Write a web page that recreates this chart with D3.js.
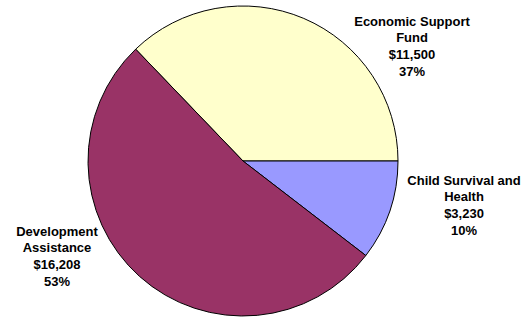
<!DOCTYPE html>
<html>
<head>
  <title>Pie chart</title>
  <style>
    body { margin: 0; background: #fff; }
    .label { font-family: "Liberation Sans", Arial, sans-serif; font-weight: bold; font-size: 13px; fill: #000; }
  </style>
</head>
<body>
  <svg id="chart" width="530" height="317"></svg>

  <script src="https://d3js.org/d3.v7.min.js"></script>
  <script>
    // Data
    const categories = ['Economic Support Fund', 'Child Survival and Health', 'Development Assistance'];
    const amounts = [11500, 3230, 16208];
    const percents = [37, 10, 53];
    const labelLines = [
      ['Economic Support', 'Fund'],
      ['Child Survival and', 'Health'],
      ['Development', 'Assistance']
    ];
    const colors = ['#ffffcc', '#9999ff', '#993366'];

    // Layout
    const cx = 243, cy = 161, radius = 155;
    const lineHeight = 16.8;
    // first-line centre of each label, relative to pie centre
    const labelPos = [[169, -140], [221, 19], [-186, 70]];

    const svg = d3.select('#chart');
    const total = d3.sum(amounts);
    // Economic Support Fund ends at 3 o'clock
    const start = Math.PI / 2 - 2 * Math.PI * amounts[0] / total;

    const pie = d3.pie()
      .sort(null)
      .value(d => d)
      .startAngle(start)
      .endAngle(start + 2 * Math.PI);

    const arc = d3.arc().innerRadius(0).outerRadius(radius);

    const g = svg.append('g').attr('transform', `translate(${cx},${cy})`);

    g.selectAll('path.slice')
      .data(pie(amounts))
      .enter()
      .append('path')
      .attr('class', 'slice')
      .attr('d', arc)
      .attr('fill', (d, i) => colors[i])
      .attr('stroke', '#000')
      .attr('stroke-width', 1);

    const fmt = d3.format(',');
    const labels = g.selectAll('text.label')
      .data(categories)
      .enter()
      .append('text')
      .attr('class', 'label')
      .attr('text-anchor', 'middle')
      .attr('transform', (d, i) => `translate(${labelPos[i][0]},${labelPos[i][1]})`);

    labels.each(function (d, i) {
      const lines = labelLines[i].concat(['$' + fmt(amounts[i]), percents[i] + '%']);
      d3.select(this).selectAll('tspan')
        .data(lines)
        .enter()
        .append('tspan')
        .attr('x', 0)
        .attr('y', (t, j) => j * lineHeight)
        .attr('dy', '0.35em')
        .text(t => t);
    });
  </script>
</body>
</html>
